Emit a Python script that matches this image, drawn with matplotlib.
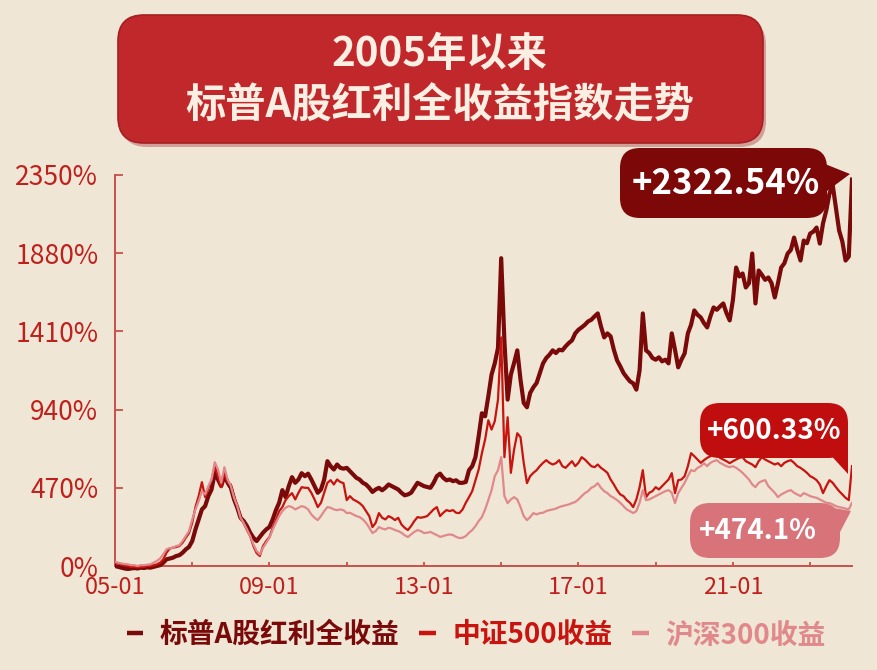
import numpy as np
import matplotlib
matplotlib.use("Agg")
import matplotlib.pyplot as plt
from matplotlib.patches import FancyBboxPatch, Polygon
from matplotlib.lines import Line2D

plt.rcParams["font.family"] = ["Noto Sans CJK SC", "DejaVu Sans"]

# monthly cumulative return (%), Jan 2005 .. Feb 2024
START_YEAR = 2005
dividend = [
    0, -5, -10, -15, -18, -15, -12, -15, -10, -12, -8, -10,                      # 2005
    -5, 0, 5, 20, 40, 45, 50, 60, 65, 80, 100, 115,                              # 2006
    150, 220, 280, 340, 360, 420, 460, 560, 520, 480, 545, 500,                  # 2007
    470, 400, 350, 290, 270, 240, 200, 170, 150, 175, 200, 220,                  # 2008
    235, 280, 336, 380, 456, 414, 480, 534, 500, 520, 558, 540,                  # 2009
    555, 520, 480, 440, 460, 520, 630, 600, 580, 610, 590, 585,                  # 2010
    590, 570, 550, 530, 520, 500, 490, 470, 445, 460, 470, 455,                  # 2011
    470, 490, 480, 470, 460, 440, 425, 430, 440, 470, 500, 490,                  # 2012
    480, 475, 470, 500, 540, 555, 530, 515, 520, 510, 515, 500,                  # 2013
    500, 505, 576, 600, 654, 780, 918, 900, 1020, 1150, 1218, 1310,              # 2014
    1850, 1350, 1000, 1150, 1220, 1296, 1120, 980, 954, 1040, 1074, 1100,        # 2015
    1160, 1218, 1250, 1270, 1296, 1280, 1300, 1296, 1320, 1340, 1356, 1398,      # 2016
    1420, 1434, 1450, 1470, 1480, 1500, 1518, 1440, 1374, 1398, 1380, 1300,      # 2017
    1236, 1200, 1160, 1134, 1110, 1098, 1060, 1176, 1518, 1296, 1280, 1250,      # 2018
    1240, 1254, 1230, 1240, 1218, 1398, 1300, 1194, 1240, 1278, 1398, 1450,      # 2019
    1536, 1510, 1494, 1460, 1434, 1500, 1554, 1540, 1560, 1578, 1520, 1476,      # 2020
    1600, 1794, 1740, 1758, 1674, 1700, 1878, 1578, 1776, 1750, 1720, 1734,      # 2021
    1700, 1614, 1700, 1794, 1820, 1878, 1900, 1974, 1900, 1836, 1956, 1940,      # 2022
    1998, 2010, 2034, 1938, 2060, 2136, 2238, 2290, 2154, 2016, 1950, 1836,      # 2023
    1860, 2322.54,                                                               # 2024
]
csi500 = [
    20, 15, 10, 5, 0, -5, -5, -8, -5, -5, 0, 0,
    5, 10, 20, 40, 80, 105, 110, 114, 120, 140, 170, 198,
    260, 354, 420, 504, 414, 470, 516, 600, 540, 474, 560, 500,
    490, 420, 360, 300, 258, 216, 180, 120, 78, 60, 120, 150,
    174, 230, 276, 330, 354, 396, 420, 438, 400, 440, 474, 470,
    470, 440, 400, 354, 380, 440, 500, 516, 490, 520, 505, 498,
    396, 420, 400, 390, 378, 360, 330, 300, 234, 260, 318, 290,
    280, 300, 290, 276, 290, 250, 230, 216, 240, 270, 294, 290,
    294, 300, 320, 340, 354, 300, 320, 336, 330, 336, 320, 318,
    340, 380, 414, 450, 516, 580, 678, 760, 876, 820, 870, 1000,
    1374, 654, 894, 560, 700, 798, 774, 620, 498, 540, 560, 576,
    600, 620, 636, 620, 610, 618, 636, 600, 590, 610, 630, 600,
    620, 654, 640, 620, 600, 594, 610, 590, 576, 560, 520, 490,
    456, 430, 420, 396, 380, 354, 400, 474, 576, 414, 440, 450,
    474, 460, 480, 500, 520, 558, 438, 516, 520, 540, 600, 678,
    660, 640, 620, 636, 650, 660, 670, 678, 650, 640, 630, 618,
    630, 640, 650, 654, 630, 620, 610, 594, 630, 654, 640, 630,
    620, 610, 618, 600, 620, 630, 636, 620, 600, 590, 576, 560,
    540, 530, 516, 490, 438, 480, 516, 500, 474, 450, 430, 410,
    396, 600.33,
]
csi300 = [
    25, 20, 15, 12, 10, 5, 5, 0, 5, 5, 8, 10,
    20, 30, 45, 70, 100, 108, 110, 120, 125, 150, 180, 210,
    280, 340, 390, 450, 430, 480, 520, 624, 580, 500, 594, 520,
    480, 410, 360, 290, 258, 220, 180, 130, 90, 70, 110, 140,
    170, 220, 260, 300, 330, 350, 360, 354, 340, 350, 360, 354,
    340, 310, 290, 276, 300, 330, 354, 350, 340, 336, 340, 336,
    318, 320, 310, 300, 294, 280, 260, 230, 198, 210, 234, 225,
    220, 230, 225, 216, 210, 200, 185, 174, 190, 205, 216, 210,
    198, 200, 205, 195, 186, 175, 180, 186, 190, 186, 175, 168,
    170, 180, 200, 216, 240, 270, 294, 340, 396, 456, 540, 576,
    654, 420, 378, 400, 414, 400, 354, 300, 276, 294, 318, 310,
    318, 320, 330, 336, 340, 345, 354, 360, 365, 370, 378, 385,
    400, 420, 438, 450, 470, 480, 498, 470, 450, 438, 420, 410,
    396, 380, 360, 340, 330, 318, 330, 380, 456, 396, 400, 410,
    420, 430, 440, 450, 456, 440, 378, 438, 470, 500, 540, 576,
    570, 590, 600, 618, 600, 620, 630, 636, 620, 610, 600, 594,
    600, 590, 576, 560, 540, 520, 490, 474, 500, 510, 516, 480,
    460, 440, 414, 430, 440, 450, 456, 440, 430, 420, 438, 430,
    420, 414, 410, 400, 390, 380, 378, 370, 360, 354, 350, 345,
    340, 380,
]

series_names = ["标普A股红利全收益", "中证500收益", "沪深300收益"]
end_labels = ["+2322.54%", "+600.33%", "+474.1%"]
y_ticks = [0, 470, 940, 1410, 1880, 2350]
x_label_years = [2005, 2009, 2013, 2017, 2021]
x_tick_labels = ["05-01", "09-01", "13-01", "17-01", "21-01"]
title_lines = ["2005年以来", "标普A股红利全收益指数走势"]

BG = "#efe6d6"
DARK = "#7a0a0a"
RED = "#c8130f"
PINK = "#e0888a"
AXIS = "#c9504a"
TICKTXT = "#c0201c"
W, H = 877, 670


def months(vals):
    return START_YEAR + np.arange(len(vals)) / 12.0


fig = plt.figure(figsize=(W / 100, H / 100), dpi=100, facecolor=BG)
ax = fig.add_axes([115 / W, 1 - 571 / H, (852 - 115) / W, (571 - 175) / H])
ax.set_facecolor("none")

ax.plot(months(dividend), dividend, color=DARK, lw=3.0, zorder=3)
ax.plot(months(csi500), csi500, color=RED, lw=1.6, zorder=4)
ax.plot(months(csi300), csi300, color=PINK, lw=1.6, zorder=5)

x_end = months(dividend)[-1]
ax.set_xlim(START_YEAR, x_end)
ax.set_ylim(-30, 2350)

ax.set_yticks(y_ticks)
ax.set_yticklabels([f"{v}%" for v in y_ticks])
minor_years = list(range(2005, 2024, 2))
ax.set_xticks(minor_years)
ax.set_xticklabels([x_tick_labels[x_label_years.index(y)] if y in x_label_years else ""
                    for y in minor_years])

for side in ("top", "right"):
    ax.spines[side].set_visible(False)
ax.spines["left"].set_bounds(0, 2350)
ax.spines["bottom"].set_position(("data", 0))
for side in ("left", "bottom"):
    ax.spines[side].set_color(AXIS)
    ax.spines[side].set_linewidth(1.4)

ax.tick_params(axis="y", direction="in", length=6, width=1.3, color=AXIS,
               labelcolor=TICKTXT, labelsize=19, pad=12)
ax.tick_params(axis="x", direction="in", length=3, width=1.3, color=AXIS,
               labelcolor=TICKTXT, labelsize=17, pad=7)

# decorations drawn in pixel coordinates (origin top-left)
deco = fig.add_axes([0, 0, 1, 1], zorder=10)
deco.set_xlim(0, W)
deco.set_ylim(H, 0)
deco.axis("off")
deco.patch.set_alpha(0)

deco.add_patch(FancyBboxPatch((121, 19), 645, 128, boxstyle="round,pad=0,rounding_size=26",
                              fc="#9e1c1f", ec="none", alpha=0.35))
deco.add_patch(FancyBboxPatch((118, 15), 645, 128, boxstyle="round,pad=0,rounding_size=26",
                              fc="#c1282b", ec="#a61e21", lw=1.2))
deco.text(440, 55, title_lines[0], ha="center", va="center", fontsize=29,
          fontweight="bold", color="#fbeee2")
deco.text(440, 106, title_lines[1], ha="center", va="center", fontsize=29,
          fontweight="bold", color="#fbeee2")


def bubble(x, y, w, h, tail, color, text, size, tx, ty):
    deco.add_patch(Polygon(tail, closed=True, fc=color, ec="none"))
    deco.add_patch(FancyBboxPatch((x, y), w, h, boxstyle="round,pad=0,rounding_size=20",
                                  fc=color, ec="none"))
    deco.text(tx, ty, text, ha="center", va="center", fontsize=size,
              fontweight="bold", color="white")


bubble(620, 148, 207, 70, [(790, 150), (850, 174), (815, 200)], "#7d0808",
       end_labels[0], 25, 726, 183)
bubble(700, 403, 148, 55, [(826, 450), (848, 474), (848, 435)], "#c00d0d",
       end_labels[1], 20, 774, 431)
bubble(690, 503, 150, 55, [(822, 506), (851, 511), (838, 536)], "#d8737a",
       end_labels[2], 20, 758, 531)

handles = [Line2D([0], [0], color=c, lw=3.2, solid_capstyle="butt") for c in (DARK, RED, PINK)]
fig.legend(handles, series_names, loc="center", bbox_to_anchor=(0.543, 0.052), ncol=3,
           frameon=False, handlelength=0.6, handletextpad=0.6, columnspacing=0.7,
           prop=dict(family="Noto Sans CJK SC", weight="bold", size=20),
           labelcolor=[DARK, RED, PINK])

fig.savefig("out.png", dpi=100, facecolor=BG)
plt.close(fig)
